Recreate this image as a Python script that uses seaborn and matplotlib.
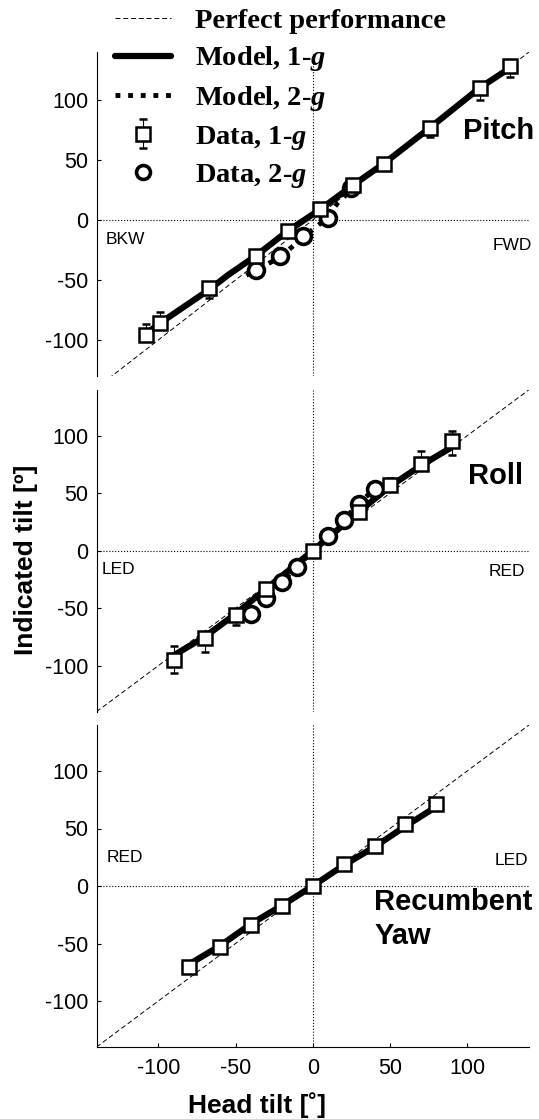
import matplotlib
matplotlib.use('Agg')
import matplotlib.pyplot as plt
from matplotlib.lines import Line2D
import seaborn as sns

# ---- data (head tilt vs indicated tilt, degrees) ----
perfect_x = [-140, 140]

# Pitch
pitch_x = [-108, -99, -67, -37, -16, 5, 26, 46, 76, 108, 128]
pitch_y = [-96, -86, -57, -30, -9, 9, 29, 47, 77, 110, 128]
pitch_err_lo = [0, 0, 8, 0, 0, 0, 0, 0, 8, 10, 9]
pitch_err_hi = [9, 9, 0, 0, 0, 0, 0, 0, 0, 0, 0]
pitch_model1_x = [-108, -99, -67, -55, -37, -16, 5, 26, 46, 76, 108, 128]
pitch_model1_y = [-95, -86, -58, -46, -30, -9, 9, 29, 47, 77, 110, 127]
pitch_2g_x = [-37, -21, -6, 10, 25]
pitch_2g_y = [-42, -30, -13, 2, 27]
pitch_model2_x = [-43, -21, -6, 3, 10, 16, 24]
pitch_model2_y = [-46, -31, -14, -5, 3, 14, 24]

# Roll
roll_x = [-90, -70, -50, -30, 0, 30, 50, 70, 90]
roll_y = [-95, -76, -56, -33, 0, 34, 57, 75, 95]
roll_err_lo = [11, 12, 9, 0, 0, 0, 0, 0, 12]
roll_err_hi = [12, 0, 0, 0, 0, 0, 6, 12, 9]
roll_model1_x = [-90, -70, -50, -30, 0, 30, 50, 70, 90]
roll_model1_y = [-91, -75, -55, -33, 0, 34, 56, 74, 90]
roll_2g_x = [-40, -30, -20, -10, 10, 20, 30, 40]
roll_2g_y = [-55, -41, -27, -14, 13, 27, 41, 54]
roll_model2_x = [-40, -30, -20, -10, 0, 10, 20, 30, 40]
roll_model2_y = [-55, -41, -27, -14, 0, 13, 27, 41, 54]

# Recumbent yaw
yaw_x = [-80, -60, -40, -20, 0, 20, 40, 60, 80]
yaw_y = [-70, -53, -34, -17, 0, 19, 35, 54, 71]
yaw_err_lo = [6, 0, 0, 0, 0, 0, 0, 0, 0]
yaw_err_hi = [0, 0, 0, 0, 0, 0, 0, 3, 4]
yaw_model1_x = [-80, -60, -40, -20, 0, 20, 40, 60, 80]
yaw_model1_y = [-68, -52, -33, -17, 0, 18, 34, 52, 69]

ticks = [-100, -50, 0, 50, 100]

sns.set_theme(style='white')
plt.rcParams['font.family'] = ['Liberation Sans', 'DejaVu Sans']
plt.rcParams['axes.unicode_minus'] = False
plt.rcParams['text.color'] = 'black'
plt.rcParams['axes.labelcolor'] = 'black'
plt.rcParams['xtick.color'] = 'black'
plt.rcParams['ytick.color'] = 'black'
plt.rcParams['mathtext.fontset'] = 'custom'
plt.rcParams['mathtext.it'] = 'Liberation Serif:italic:bold'
plt.rcParams['mathtext.rm'] = 'Liberation Serif:bold'

fig = plt.figure(figsize=(5.39, 11.19), dpi=100)
W, H = 539.0, 1119.0
left, width = 96.5 / W, 432.5 / W
ax1 = fig.add_axes([left, (H - 376) / H, width, 324 / H])
ax2 = fig.add_axes([left, (H - 711.7) / H, width, 322 / H])
ax3 = fig.add_axes([left, (H - 1047) / H, width, 322 / H])

sq_style = dict(fmt='s', ms=9.5, mfc='white', mec='black', mew=1.8,
                ecolor='black', elinewidth=0.8, capsize=3, capthick=0.8, zorder=5)
dot_style = (0, (1, 1.6))


def draw_panel(ax, xs, ys, lo, hi, mx, my, ylim):
    ax.set_facecolor('none')
    sns.lineplot(x=perfect_x, y=perfect_x, ax=ax, color='black', lw=0.7,
                 linestyle=(0, (5, 3)), zorder=1)
    ax.axhline(0, color='black', lw=0.8, ls=':', zorder=0.5)
    ax.axvline(0, color='black', lw=0.8, ls=':', zorder=0.5)
    sns.lineplot(x=mx, y=my, ax=ax, color='black', lw=4.5, zorder=3,
                 solid_joinstyle='round', solid_capstyle='butt')
    eb = ax.errorbar(xs, ys, yerr=[lo, hi], **sq_style)
    ax.set_xlim(-140, 140)
    ax.set_ylim(*ylim)
    ax.set_yticks(ticks)
    ax.set_yticklabels([str(t) for t in ticks])
    ax.tick_params(axis='y', direction='in', length=3, width=0.8,
                   labelsize=15.5, pad=6, colors='black', left=True)
    for s in ['top', 'right', 'bottom']:
        ax.spines[s].set_visible(False)
    ax.spines['left'].set_color('black')
    ax.spines['left'].set_linewidth(0.8)
    ax.set_xticks(ticks)
    ax.tick_params(axis='x', bottom=False, labelbottom=False)
    ax.set_xlabel('')
    ax.set_ylabel('')
    return eb


eb = draw_panel(ax1, pitch_x, pitch_y, pitch_err_lo, pitch_err_hi,
                pitch_model1_x, pitch_model1_y, (-130, 140))
sns.lineplot(x=pitch_model2_x, y=pitch_model2_y, ax=ax1, color='black', lw=3.5,
             linestyle=dot_style, zorder=2)
sns.scatterplot(x=pitch_2g_x, y=pitch_2g_y, ax=ax1, marker='o', s=130,
                color='white', edgecolor='black', linewidth=2.6, zorder=4)

draw_panel(ax2, roll_x, roll_y, roll_err_lo, roll_err_hi,
           roll_model1_x, roll_model1_y, (-140, 140))
sns.lineplot(x=roll_model2_x, y=roll_model2_y, ax=ax2, color='black', lw=3.5,
             linestyle=dot_style, zorder=2)
sns.scatterplot(x=roll_2g_x, y=roll_2g_y, ax=ax2, marker='o', s=130,
                color='white', edgecolor='black', linewidth=2.6, zorder=4)

draw_panel(ax3, yaw_x, yaw_y, yaw_err_lo, yaw_err_hi,
           yaw_model1_x, yaw_model1_y, (-140, 140))
ax3.spines['bottom'].set_visible(True)
ax3.spines['bottom'].set_color('black')
ax3.spines['bottom'].set_linewidth(0.8)
ax3.tick_params(axis='x', bottom=True, labelbottom=True, direction='in',
                length=3, width=0.8, labelsize=15.5, pad=8, colors='black')
ax3.set_xticklabels([str(t) for t in ticks])

# panel titles and direction labels
title_kw = dict(fontsize=21, fontweight='bold', color='black')
ax1.text(1.012, 0.757, 'Pitch', transform=ax1.transAxes, ha='right', va='center', **title_kw)
ax2.text(0.986, 0.733, 'Roll', transform=ax2.transAxes, ha='right', va='center', **title_kw)
ax3.text(0.642, 0.45, 'Recumbent', transform=ax3.transAxes, ha='left', va='center', **title_kw)
ax3.text(0.642, 0.345, 'Yaw', transform=ax3.transAxes, ha='left', va='center', **title_kw)

dir_kw = dict(fontsize=12.5, color='black', va='center')
ax1.text(0.02, 0.42, 'BKW', transform=ax1.transAxes, ha='left', **dir_kw)
ax1.text(1.007, 0.404, 'FWD', transform=ax1.transAxes, ha='right', **dir_kw)
ax2.text(0.012, 0.443, 'LED', transform=ax2.transAxes, ha='left', **dir_kw)
ax2.text(0.991, 0.434, 'RED', transform=ax2.transAxes, ha='right', **dir_kw)
ax3.text(0.024, 0.587, 'RED', transform=ax3.transAxes, ha='left', **dir_kw)
ax3.text(0.998, 0.578, 'LED', transform=ax3.transAxes, ha='right', **dir_kw)

# axis labels
fig.text(26 / W, 1 - 560 / H, 'Indicated tilt [º]', rotation=90, ha='center',
         va='center', fontsize=19, fontweight='bold', color='black')
fig.text(256.7 / W, 1 - 1113 / H, 'Head tilt [˚]', ha='center', va='baseline',
         fontsize=19, fontweight='bold', color='black')

# legend
handles = [
    Line2D([], [], color='black', lw=0.7, linestyle=(0, (5, 3))),
    Line2D([], [], color='black', lw=4.5),
    Line2D([], [], color='black', lw=3.5, linestyle=dot_style),
    eb,
    Line2D([], [], ls='none', marker='o', ms=10, mfc='white', mec='black', mew=2.6),
]
labels = ['Perfect performance', r'Model, 1-$g$', r'Model, 2-$g$',
          r'Data, 1-$g$', r'Data, 2-$g$']
leg = fig.legend(handles, labels, loc='upper left', bbox_to_anchor=(115 / W, 1 - 8 / H),
                 frameon=False, borderpad=0, borderaxespad=0, handlelength=1.95,
                 handletextpad=0.85, labelspacing=0.37,
                 prop={'family': 'Liberation Serif', 'weight': 'bold', 'size': 20.5})
for t in leg.get_texts():
    t.set_color('black')

fig.savefig('out.png', dpi=100)
